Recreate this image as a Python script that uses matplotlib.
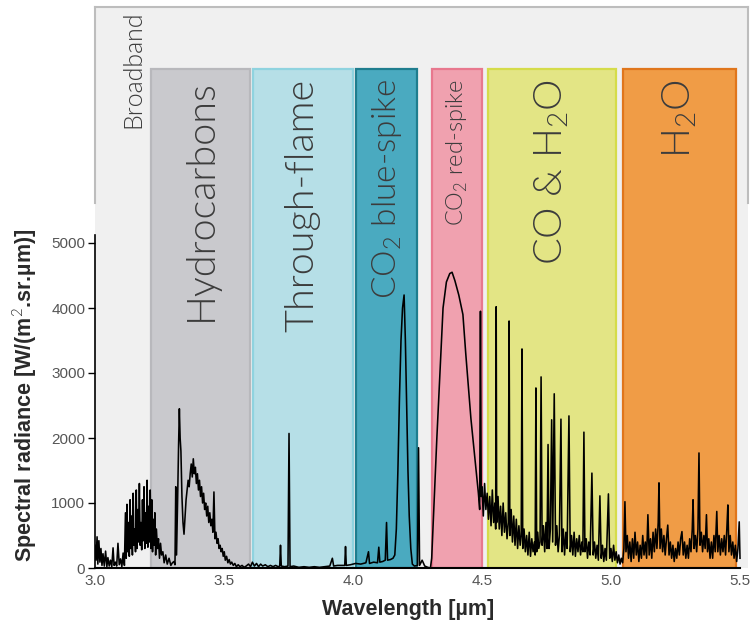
import numpy as np
import matplotlib
matplotlib.use('Agg')
import matplotlib.pyplot as plt

plt.rcParams['font.family'] = ['Liberation Sans', 'DejaVu Sans']
plt.rcParams['mathtext.fontset'] = 'custom'
plt.rcParams['mathtext.rm'] = 'Lato:weight=300'

# 波段（µm）
band_names = ['Hydrocarbons', 'Through-flame', r'CO$_\mathrm{2}$ blue-spike',
              r'CO$_\mathrm{2}$ red-spike', r'CO & H$_\mathrm{2}$O', r'H$_\mathrm{2}$O']
band_start = [3.217, 3.612, 4.012, 4.308, 4.522, 5.047]
band_end = [3.601, 3.999, 4.250, 4.500, 5.019, 5.485]
band_face = ['#c9c9cd', '#b6dfe7', '#4aaac0', '#f0a1af', '#e3e585', '#f09c46']
band_edge = ['#b8b8bc', '#8fd3df', '#1f7d8e', '#e8788e', '#d5dc4a', '#e0761c']
band_fsize = [28.5, 28.5, 24, 17, 28.5, 28.5]

# 光谱数据（波长 µm, 辐亮度 W/(m2.sr.µm)）
wl_broad = [3.000, 3.004, 3.008, 3.011, 3.015, 3.019, 3.023, 3.027, 3.031, 3.036, 3.041, 3.046, 3.050,
            3.055, 3.060, 3.065, 3.070, 3.074, 3.079, 3.084, 3.089, 3.094, 3.099, 3.104, 3.109, 3.114]
rad_broad = [350, 120, 480, 60, 420, 90, 300, 40, 220, 30, 260, 20, 160,
             30, 120, 20, 310, 40, 90, 30, 380, 50, 140, 20, 230, 40]

wl_hc1 = [3.118, 3.121, 3.124, 3.127, 3.130, 3.133, 3.136, 3.139, 3.142, 3.145, 3.148, 3.151, 3.154,
          3.157, 3.160, 3.163, 3.166, 3.169, 3.172, 3.175, 3.178, 3.181, 3.184, 3.187, 3.190, 3.193,
          3.196, 3.199, 3.202, 3.205, 3.208, 3.211, 3.214, 3.217, 3.220, 3.223, 3.226, 3.229, 3.232,
          3.235, 3.238, 3.242, 3.246, 3.250, 3.254, 3.258, 3.263, 3.268, 3.274, 3.280, 3.287, 3.294,
          3.300, 3.306]
rad_hc1 = [850, 150, 980, 250, 700, 180, 1050, 300, 800, 200, 1150, 350, 600,
           250, 1200, 300, 900, 400, 1300, 350, 700, 280, 1050, 420, 1250, 300,
           850, 380, 1350, 320, 950, 400, 1200, 300, 1050, 250, 750, 350, 850,
           200, 600, 300, 450, 150, 380, 200, 250, 80, 200, 60, 150, 40,
           80, 100]

wl_hc2 = [3.310, 3.313, 3.316, 3.320, 3.324, 3.327, 3.330, 3.333, 3.337, 3.341, 3.345, 3.349, 3.353,
          3.357, 3.361, 3.365, 3.369, 3.373, 3.377, 3.381, 3.385, 3.389, 3.393, 3.397, 3.401, 3.405,
          3.409, 3.413, 3.417, 3.421, 3.425, 3.429, 3.433, 3.437, 3.441, 3.445, 3.449, 3.453, 3.457,
          3.461, 3.465, 3.469, 3.473, 3.477, 3.481, 3.485, 3.489, 3.493, 3.497, 3.501, 3.505, 3.510,
          3.515, 3.520, 3.525, 3.530, 3.536, 3.542, 3.548, 3.555, 3.562, 3.570, 3.578, 3.586]
rad_hc2 = [50, 1250, 200, 1000, 1900, 2450, 2000, 1800, 1100, 700, 520, 800, 1050,
           1200, 1350, 1250, 1450, 1600, 1400, 1680, 1450, 1550, 1300, 1450, 1200, 1350,
           1100, 1250, 1000, 1150, 900, 1000, 800, 950, 700, 850, 650, 750, 550,
           1170, 450, 550, 380, 450, 300, 350, 250, 300, 180, 250, 120, 180,
           80, 130, 60, 90, 40, 70, 20, 50, 20, 40, 10, 30]

wl_flame = [3.595, 3.603, 3.610, 3.618, 3.626, 3.634, 3.642, 3.650, 3.660, 3.670, 3.680, 3.690, 3.700,
            3.710, 3.716, 3.719, 3.722, 3.735, 3.748, 3.752, 3.756, 3.770, 3.790, 3.810, 3.830, 3.850,
            3.870, 3.890, 3.910, 3.920, 3.925, 3.940, 3.968, 3.971, 3.974, 3.990, 4.010, 4.030, 4.050,
            4.060, 4.064, 4.080, 4.095, 4.100, 4.104, 4.115, 4.125, 4.130, 4.134, 4.145, 4.155, 4.162]
rad_flame = [60, 20, 90, 30, 70, 20, 60, 30, 50, 20, 40, 20, 40,
             20, 30, 350, 30, 20, 30, 2070, 20, 30, 10, 20, 10, 20,
             10, 20, 30, 150, 30, 40, 40, 330, 40, 50, 70, 60, 80,
             250, 70, 90, 80, 320, 90, 100, 120, 700, 120, 130, 150, 200]

wl_co2 = [4.168, 4.174, 4.180, 4.186, 4.192, 4.198, 4.203, 4.208, 4.213, 4.218, 4.224, 4.230,
          4.238, 4.250, 4.254, 4.258, 4.268, 4.278, 4.290, 4.300,
          4.305, 4.314, 4.325, 4.337, 4.349, 4.362, 4.375, 4.384, 4.395, 4.410, 4.426, 4.437,
          4.447, 4.457, 4.467, 4.477, 4.486, 4.491, 4.494, 4.497]
rad_co2 = [600, 1500, 2600, 3500, 4000, 4200, 3500, 2500, 1500, 800, 300, 60,
           30, 40, 1850, 40, 120, 30, 10, 0,
           150, 1000, 2000, 3000, 4000, 4400, 4530, 4550, 4420, 4200, 3900, 3300,
           2800, 2300, 1900, 1500, 1150, 900, 3950, 1100]

wl_coh2o = [4.500, 4.505, 4.510, 4.515, 4.520, 4.525, 4.530, 4.535, 4.540, 4.545, 4.550, 4.553, 4.555,
            4.557, 4.562, 4.567, 4.572, 4.577, 4.582, 4.587, 4.592, 4.597, 4.602, 4.605, 4.608, 4.613,
            4.618, 4.623, 4.628, 4.633, 4.638, 4.643, 4.648, 4.652, 4.655, 4.658, 4.663, 4.668, 4.673,
            4.678, 4.683, 4.688, 4.693, 4.698, 4.703, 4.706, 4.709, 4.712, 4.716, 4.720, 4.725, 4.729,
            4.733, 4.738, 4.743, 4.748, 4.752, 4.756, 4.760, 4.765, 4.770, 4.774, 4.780, 4.785, 4.790,
            4.795, 4.800, 4.806, 4.810, 4.815, 4.820, 4.825, 4.830, 4.837, 4.842, 4.847, 4.852, 4.857,
            4.862, 4.867, 4.872, 4.877, 4.882, 4.887, 4.891, 4.895, 4.899, 4.904, 4.909, 4.914, 4.919,
            4.926, 4.931, 4.936, 4.941, 4.946, 4.951, 4.957, 4.962, 4.967, 4.972, 4.977, 4.982, 4.990,
            4.995, 5.000, 5.005, 5.010, 5.015, 5.020, 5.025, 5.030, 5.035, 5.040, 5.045]
rad_coh2o = [1250, 800, 1300, 900, 1150, 750, 1100, 650, 1200, 700, 1000, 600, 4020,
             700, 1100, 600, 950, 500, 1000, 550, 850, 450, 700, 3800, 500, 900,
             400, 800, 350, 750, 300, 650, 350, 500, 3370, 300, 600, 250, 500,
             200, 550, 180, 450, 250, 400, 200, 2770, 250, 550, 300, 400, 2940,
             350, 650, 250, 700, 300, 1900, 300, 600, 2280, 400, 2680, 350, 650,
             250, 500, 2290, 250, 600, 200, 550, 300, 2340, 250, 500, 200, 550,
             180, 450, 250, 500, 200, 400, 250, 2090, 250, 450, 150, 400, 200,
             1460, 200, 400, 150, 350, 120, 1110, 150, 350, 100, 300, 120, 1140,
             150, 300, 100, 350, 120, 250, 80, 200, 60, 150, 80]

wl_h2o = [5.050, 5.054, 5.058, 5.063, 5.068, 5.073, 5.078, 5.083, 5.088, 5.093, 5.098, 5.103, 5.108,
          5.113, 5.118, 5.123, 5.128, 5.133, 5.138, 5.143, 5.148, 5.153, 5.158, 5.163, 5.168, 5.173,
          5.178, 5.183, 5.186, 5.190, 5.195, 5.200, 5.205, 5.210, 5.215, 5.220, 5.225, 5.230, 5.235,
          5.240, 5.245, 5.250, 5.255, 5.260, 5.265, 5.270, 5.275, 5.280, 5.285, 5.290, 5.295, 5.300,
          5.305, 5.310, 5.315, 5.318, 5.322, 5.327, 5.332, 5.337, 5.341, 5.345, 5.350, 5.355, 5.360,
          5.365, 5.370, 5.374, 5.379, 5.384, 5.389, 5.394, 5.399, 5.404, 5.410, 5.414, 5.419, 5.424,
          5.429, 5.434, 5.439, 5.444, 5.449, 5.453, 5.457, 5.462, 5.467, 5.472, 5.477, 5.482, 5.487,
          5.492, 5.497, 5.500]
rad_h2o = [300, 1020, 250, 500, 150, 400, 100, 450, 150, 550, 200, 400, 100,
           350, 150, 500, 200, 400, 150, 820, 200, 450, 150, 550, 250, 600,
           300, 700, 1310, 300, 600, 250, 500, 200, 450, 660, 200, 400, 150,
           350, 100, 300, 150, 400, 200, 450, 560, 200, 400, 150, 350, 150,
           450, 250, 600, 1050, 300, 500, 250, 600, 1770, 350, 550, 250, 500,
           300, 820, 250, 450, 150, 400, 150, 500, 250, 870, 250, 500, 200,
           450, 250, 500, 200, 600, 970, 250, 500, 200, 400, 150, 350, 100,
           300, 710, 150]

wavelength = wl_broad + wl_hc1 + wl_hc2 + wl_flame + wl_co2 + wl_coh2o + wl_h2o
radiance = rad_broad + rad_hc1 + rad_hc2 + rad_flame + rad_co2 + rad_coh2o + rad_h2o

# 画布
fig = plt.figure(figsize=(7.52, 6.29), dpi=100)
fig.patch.set_facecolor('white')
ax = fig.add_axes([95 / 752, 61 / 629, 653 / 752, 561 / 629])
px_per_um = 258.0
px_per_unit = 0.065
y_top = 561 / px_per_unit
x_right = 3.0 + 653 / px_per_um
ax.set_xlim(3.0, x_right)
ax.set_ylim(0, y_top)
ax.set_facecolor('#f0f0f0')

band_top = (568 - 69) / px_per_unit
seam = (568 - 203) / px_per_unit

for x0, x1, fc, ec in zip(band_start, band_end, band_face, band_edge):
    ax.bar(x0, band_top, width=x1 - x0, bottom=0, align='edge',
           color=fc, edgecolor=ec, linewidth=1.6, zorder=1)

for name, x0, x1, fs in zip(band_names, band_start, band_end, band_fsize):
    ax.text((x0 + x1) / 2, band_top - 10 / px_per_unit, name, rotation=90,
            ha='center', va='top', fontsize=fs, color='#3c3c3c',
            family=['Lato', 'DejaVu Sans'], fontweight=300, zorder=3)

ax.text(3.0 + 38 / px_per_um, y_top - 4 / px_per_unit, 'Broadband', rotation=90,
        ha='center', va='top', fontsize=18, color='#3c3c3c',
        family=['Lato', 'DejaVu Sans'], fontweight=300, zorder=3)

ax.plot(wavelength, radiance, color='black', linewidth=1.15, zorder=4)

# 边框
for s in ['top', 'right']:
    ax.spines[s].set_color('#bdbdbd')
    ax.spines[s].set_linewidth(1.5)
ax.spines['right'].set_bounds(seam, y_top)
ax.spines['left'].set_bounds(0, 5120)
ax.spines['left'].set_linewidth(1.2)
ax.spines['bottom'].set_bounds(3.0, 5.5)
ax.spines['bottom'].set_linewidth(1.5)
ax.plot([3.0, 3.0], [seam, y_top], color='#bdbdbd', linewidth=1.5, clip_on=False, zorder=5)

ax.set_xticks([3.0, 3.5, 4.0, 4.5, 5.0, 5.5])
ax.set_xticklabels(['3.0', '3.5', '4.0', '4.5', '5.0', '5.5'])
ax.set_yticks([0, 1000, 2000, 3000, 4000, 5000])
ax.tick_params(axis='x', length=0, pad=4, labelsize=11, labelcolor='#555555')
ax.tick_params(axis='y', length=5, width=1, direction='out', pad=2, labelsize=11, labelcolor='#555555')

ax.set_xlabel('Wavelength [µm]', fontsize=15.5, color='#2a2a2a', fontweight='bold')
ax.xaxis.set_label_coords(0.48, -0.055)
ax.set_ylabel('Spectral radiance [W/(m$^2$.sr.µm)]', fontsize=15.5, color='#2a2a2a',
              fontweight='bold')
ax.yaxis.set_label_coords(-0.085, 0.307)

fig.savefig('out.png', dpi=100)
